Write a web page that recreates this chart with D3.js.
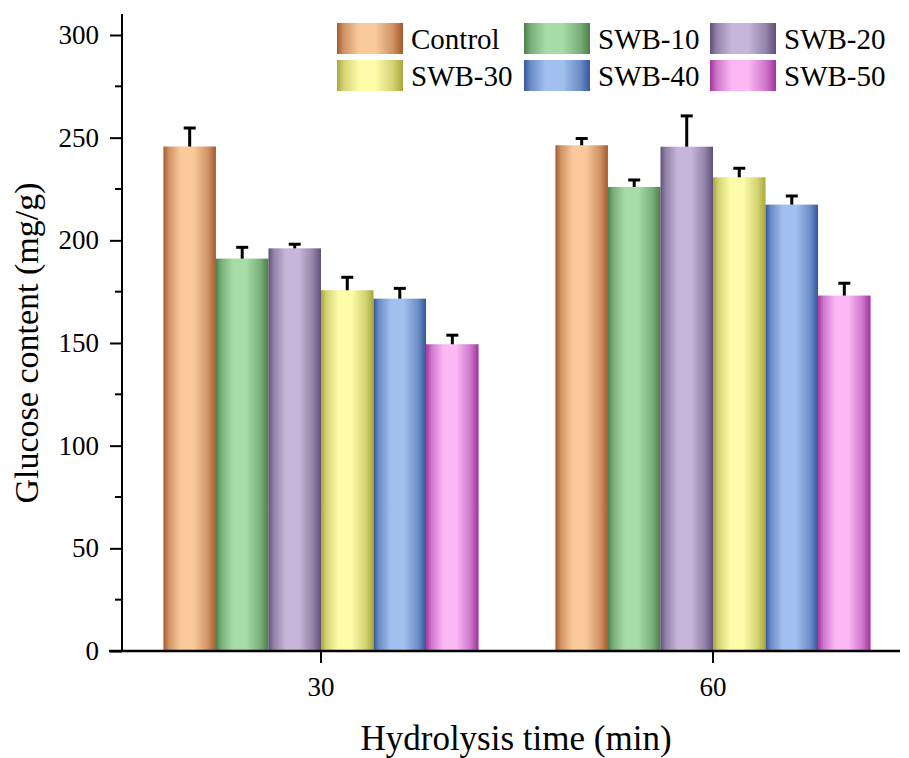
<!DOCTYPE html>
<html>
<head>
<meta charset="utf-8">
<script src="https://cdn.jsdelivr.net/npm/d3@7"></script>
<style>
  html, body { margin: 0; padding: 0; background: #fff; }
  svg text { font-family: "Liberation Serif", "Times New Roman", serif; fill: #000; }
</style>
</head>
<body>
<svg id="chart" width="909" height="758"></svg>
<script>
// ---- data ----
const groups = ["30", "60"];
const series = ["Control", "SWB-10", "SWB-20", "SWB-30", "SWB-40", "SWB-50"];
const values30 = [245.7, 191.1, 196.1, 175.7, 171.6, 149.4];
const values60 = [246.3, 226.0, 245.6, 230.7, 217.4, 173.1];
const errors30 = [9.0, 5.5, 2.0, 6.3, 5.0, 4.4];
const errors60 = [3.3, 3.4, 15.0, 4.4, 4.2, 6.0];
const yTicks = [0, 50, 100, 150, 200, 250, 300];
const yMinorTicks = [25, 75, 125, 175, 225, 275];
const darkColors  = ["#a45a2b", "#4b7f4a", "#5f4f7b", "#a9a73a", "#34589b", "#a0329c"];
const lightColors = ["#f9c99c", "#a7dca6", "#c6b6d9", "#fdfca9", "#a2c0ef", "#fbb8f5"];

const valuesByGroup = { "30": values30, "60": values60 };
const errorsByGroup = { "30": errors30, "60": errors60 };
const SERIF = "'Liberation Serif', 'Times New Roman', serif";

const svg = d3.select("#chart");
const defs = svg.append("defs");

series.forEach((s, i) => {
  const g = defs.append("linearGradient")
    .attr("id", "grad" + i)
    .attr("x1", "0%").attr("x2", "100%").attr("y1", "0%").attr("y2", "0%");
  const dark = darkColors[i], light = lightColors[i];
  const mid = d3.interpolateRgb(dark, light)(0.5);
  [[0, dark], [0.1, mid], [0.33, light], [0.58, light], [0.85, mid], [1, dark]]
    .forEach(([o, c]) => g.append("stop").attr("offset", o).attr("stop-color", c));
});

// ---- scales ----
const x0 = d3.scaleBand().domain(groups).range([125, 909]).paddingInner(0.196).paddingOuter(0.098);
const x1 = d3.scaleBand().domain(series).range([0, x0.bandwidth()]);
const y = d3.scaleLinear().domain([0, 300]).range([651, 35]);

// ---- bars ----
const rows = [];
groups.forEach(gk => series.forEach((s, i) => rows.push({
  group: gk, series: s, idx: i, value: valuesByGroup[gk][i], err: errorsByGroup[gk][i]
})));

svg.append("g").selectAll("rect").data(rows).join("rect")
  .attr("x", d => x0(d.group) + x1(d.series))
  .attr("y", d => y(d.value))
  .attr("width", x1.bandwidth())
  .attr("height", d => y(0) - y(d.value))
  .attr("fill", d => "url(#grad" + d.idx + ")");

const eb = svg.append("g").attr("stroke", "#000");
eb.selectAll("line.v").data(rows).join("line").attr("class", "v")
  .attr("x1", d => x0(d.group) + x1(d.series) + x1.bandwidth() / 2)
  .attr("x2", d => x0(d.group) + x1(d.series) + x1.bandwidth() / 2)
  .attr("y1", d => y(d.value))
  .attr("y2", d => y(d.value + d.err))
  .attr("stroke-width", 3);
eb.selectAll("line.c").data(rows).join("line").attr("class", "c")
  .attr("x1", d => x0(d.group) + x1(d.series) + x1.bandwidth() / 2 - 6)
  .attr("x2", d => x0(d.group) + x1(d.series) + x1.bandwidth() / 2 + 6)
  .attr("y1", d => y(d.value + d.err))
  .attr("y2", d => y(d.value + d.err))
  .attr("stroke-width", 3);

// ---- y axis ----
const yAxis = svg.append("g").attr("transform", "translate(122,0)");
yAxis.call(d3.axisLeft(y).tickValues(yTicks).tickSize(12).tickPadding(11).tickFormat(d3.format("d")));
yAxis.attr("font-family", null).attr("font-size", null);
yAxis.select(".domain").remove();
yAxis.selectAll(".tick line").attr("stroke-width", 2);
yAxis.selectAll(".tick text").style("font-family", SERIF).style("font-size", "27px");
yAxis.append("g").selectAll("line").data(yMinorTicks).join("line")
  .attr("x1", -7).attr("x2", 0)
  .attr("y1", d => y(d)).attr("y2", d => y(d))
  .attr("stroke", "#000").attr("stroke-width", 2);
yAxis.append("line").attr("x1", 0).attr("x2", 0).attr("y1", 652).attr("y2", 14)
  .attr("stroke", "#000").attr("stroke-width", 2);

// ---- x axis ----
const xAxis = svg.append("g").attr("transform", "translate(0,651)");
xAxis.call(d3.axisBottom(x0).tickSize(12).tickPadding(14));
xAxis.attr("font-family", null).attr("font-size", null);
xAxis.select(".domain").remove();
xAxis.selectAll(".tick line").attr("stroke-width", 2);
xAxis.selectAll(".tick text").style("font-family", SERIF).style("font-size", "27px");
xAxis.append("line").attr("x1", 109).attr("x2", 900).attr("y1", 0).attr("y2", 0)
  .attr("stroke", "#000").attr("stroke-width", 2.5);

// ---- titles ----
svg.append("text").attr("x", 516).attr("y", 750).attr("text-anchor", "middle")
  .style("font-family", SERIF).style("font-size", "35px").text("Hydrolysis time (min)");
svg.append("text").attr("transform", "translate(38,343) rotate(-90)").attr("text-anchor", "middle")
  .style("font-family", SERIF).style("font-size", "34px").text("Glucose content (mg/g)");

// ---- legend ----
const legCols = [337, 524, 710];
const legRows = [23, 60];
const leg = svg.append("g");
series.forEach((s, i) => {
  const cx = legCols[i % 3], cy = legRows[Math.floor(i / 3)];
  leg.append("rect").attr("x", cx).attr("y", cy).attr("width", 66).attr("height", 31)
    .attr("fill", "url(#grad" + i + ")");
  leg.append("text").attr("x", cx + 74).attr("y", cy + 26)
    .style("font-family", SERIF).style("font-size", "29px").text(s);
});
</script>
</body>
</html>
